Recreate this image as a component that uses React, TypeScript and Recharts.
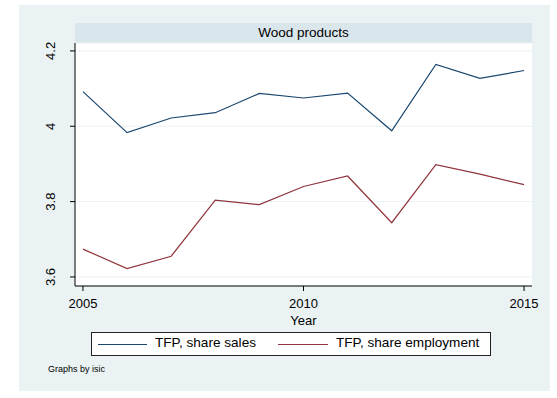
import { LineChart, Line, XAxis, YAxis, CartesianGrid } from "recharts";

const years = [2005, 2006, 2007, 2008, 2009, 2010, 2011, 2012, 2013, 2014, 2015];
const shareSales = [4.092, 3.983, 4.022, 4.036, 4.087, 4.075, 4.088, 3.988, 4.164, 4.127, 4.148];
const shareEmployment = [3.674, 3.622, 3.655, 3.804, 3.792, 3.84, 3.868, 3.744, 3.898, 3.873, 3.845];
const yTicks = [3.6, 3.8, 4, 4.2];
const xTicks = [2005, 2010, 2015];

const data = years.map((year, i) => ({ year, sales: shareSales[i], emp: shareEmployment[i] }));

const FONT = "'Liberation Sans', Arial, sans-serif";
const NAVY = "#1a476f";
const MAROON = "#90353b";

function YTick({ x, y, payload }: any) {
	const bx = x - 13;
	return (
		<text x={bx} y={y} transform={`rotate(-90 ${bx} ${y})`} textAnchor="middle" fontSize={13} fontFamily={FONT} fill="#000">
			{payload.value}
		</text>
	);
}

function XTick({ x, y, payload }: any) {
	return (
		<text x={x} y={y + 15} textAnchor="middle" fontSize={13} fontFamily={FONT} fill="#000">
			{payload.value}
		</text>
	);
}

function LegendBox() {
	return (
		<div
			style={{
				position: "absolute",
				left: 91,
				top: 332,
				boxSizing: "border-box",
				width: 400,
				height: 24,
				border: "1px solid #222",
				background: "#fff",
				fontFamily: FONT,
				fontSize: 13.6,
			}}
		>
			<span style={{ position: "absolute", left: 6, top: 11, width: 49, borderTop: `1px solid ${NAVY}` }} />
			<span style={{ position: "absolute", left: 63, top: 2 }}>TFP, share sales</span>
			<span style={{ position: "absolute", left: 186, top: 11, width: 50, borderTop: `1px solid ${MAROON}` }} />
			<span style={{ position: "absolute", left: 244, top: 2 }}>TFP, share employment</span>
		</div>
	);
}

export default function App() {
	return (
		<div style={{ position: "absolute", left: 0, top: 0, width: 557, height: 398, background: "#fff" }}>
			<div style={{ position: "absolute", left: 19, top: 5, width: 531, height: 386, background: "#eaf2f3" }} />
			<div
				style={{
					position: "absolute",
					left: 75,
					top: 23,
					width: 457,
					height: 20,
					background: "#d9e6eb",
					fontFamily: FONT,
					fontSize: 13.5,
					textAlign: "center",
					lineHeight: "20px",
				}}
			>
				Wood products
			</div>
			<div style={{ position: "absolute", left: 0, top: 0 }}>
				<LineChart width={557} height={398} data={data} margin={{ top: 43, right: 25, bottom: 82, left: 45 }}>
					<CartesianGrid horizontal vertical={false} stroke="#eaf2f3" fill="#fff" />
					<XAxis
						dataKey="year"
						type="number"
						domain={[2004.82, 2015.18]}
						ticks={xTicks}
						height={30}
						tick={<XTick />}
						tickSize={5}
						stroke="#000"
						label={{ value: "Year", position: "insideBottom", offset: -9, fontSize: 13, fontFamily: FONT, fill: "#000" }}
					/>
					<YAxis
						type="number"
						domain={[3.576, 4.221]}
						ticks={yTicks}
						width={30}
						tick={<YTick />}
						tickSize={5}
						stroke="#000"
						allowDataOverflow
					/>
					<Line dataKey="sales" stroke={NAVY} strokeWidth={1.2} dot={false} isAnimationActive={false} />
					<Line dataKey="emp" stroke={MAROON} strokeWidth={1.2} dot={false} isAnimationActive={false} />
				</LineChart>
			</div>
			<LegendBox />
			<div style={{ position: "absolute", left: 48, top: 364, fontFamily: FONT, fontSize: 9 }}>Graphs by isic</div>
		</div>
	);
}
